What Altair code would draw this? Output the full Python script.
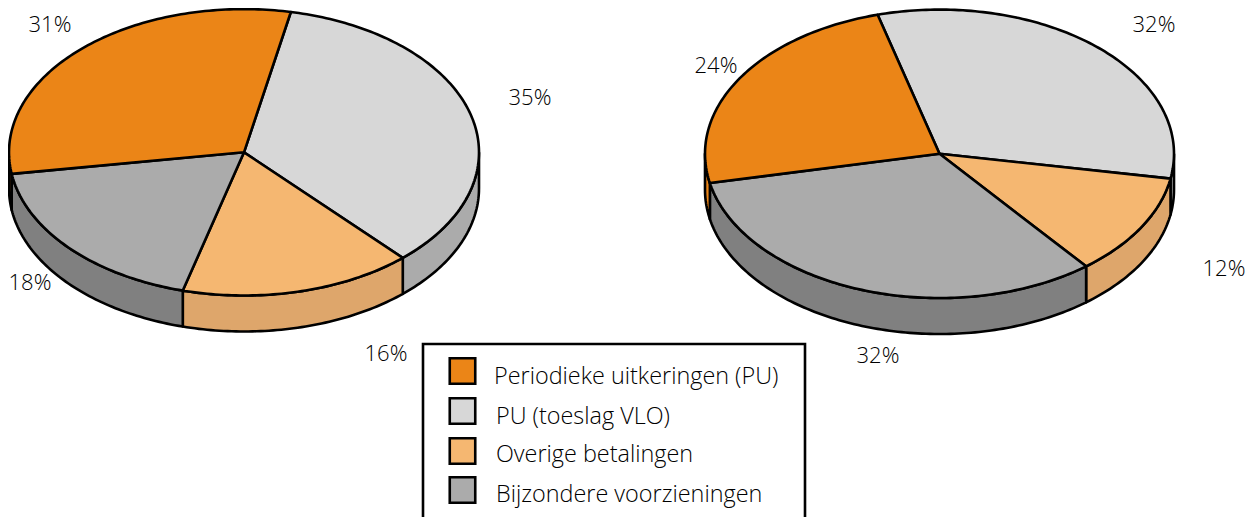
import math
import altair as alt
import pandas as pd

# Slices in drawing order (clockwise), with shares
names = ["PU (toeslag VLO)", "Overige betalingen", "Bijzondere voorzieningen", "Periodieke uitkeringen (PU)"]
legend_order = ["Periodieke uitkeringen (PU)", "PU (toeslag VLO)", "Overige betalingen", "Bijzondere voorzieningen"]
legend_colors = ["#EB8517", "#D7D7D7", "#F5B771", "#ABABAB"]
side_names = ["side toeslag", "side overige", "side bijzonder", "side periodiek"]
side_colors = ["#ABABAB", "#DEA66B", "#808080", "#EB8517"]

shares_left = [35.0, 16.0, 18.4, 30.6]
shares_right = [32.0, 11.5, 32.5, 24.0]
labels_left = ["35%", "16%", "18%", "31%"]
labels_right = ["32%", "12%", "32%", "24%"]

# Layout of the two discs: centre, radii, depth, first slice angle (deg clockwise from 12 o'clock)
left_pie = dict(cx=244, cy=152.3, rx=235, ry=143.2, depth=36, start=11.5)
right_pie = dict(cx=939.5, cy=153.8, rx=234.5, ry=144.2, depth=36, start=-15.3)

label_x_left = [530, 386, 30, 50]
label_y_left = [98, 354, 283, 25]
label_x_right = [1154, 1224, 878, 716]
label_y_right = [25, 269, 356, 66]

box_x = [423, 423, 805, 805]
box_y = [530, 344, 344, 530]
key_x = [462.5, 462.5, 462.5, 462.5]
key_y = [371, 411, 451, 490]
key_text_x = [494, 496, 496, 496]
key_text_y = [384, 423.5, 462, 502]


def pt(p, deg, drop=0.0):
    a = math.radians(deg)
    return p["cx"] + p["rx"] * math.sin(a), p["cy"] - p["ry"] * math.cos(a) + drop


def arc(a, b):
    n = max(2, int(abs(b - a) / 1.0) + 1)
    return [a + (b - a) * i / (n - 1) for i in range(n)]


rows = []
poly = 0


def add(points, name):
    global poly
    poly += 1
    for i, (x, y) in enumerate(points + points[:1]):
        rows.append(dict(x=x, y=y, i=i, poly=poly, name=name))


def pie(p, shares):
    edges = [p["start"]]
    for s in shares:
        edges.append(edges[-1] + s * 3.6)
    for k in range(len(shares)):
        for lo, hi in ((90, 270), (450, 630)):
            a, b = max(edges[k], lo), min(edges[k + 1], hi)
            if b > a:
                top = [pt(p, d) for d in arc(a, b)]
                bottom = [pt(p, d, p["depth"]) for d in arc(b, a)]
                add(top + bottom, side_names[k])
    for k in range(len(shares)):
        wedge = [(p["cx"], p["cy"])] + [pt(p, d) for d in arc(edges[k], edges[k + 1])]
        add(wedge, names[k])


pie(left_pie, shares_left)
pie(right_pie, shares_right)
df = pd.DataFrame(rows)

text_df = pd.DataFrame({
    "x": label_x_left + label_x_right,
    "y": label_y_left + label_y_right,
    "t": labels_left + labels_right,
})
box_df = pd.DataFrame({"x": box_x, "y": box_y, "i": range(4)})
key_df = pd.DataFrame({"x": key_x, "y": key_y, "name": legend_order})
key_text_df = pd.DataFrame({"x": key_text_x, "y": key_text_y, "name": legend_order})

W, H = 1238, 509
xs = alt.X("x:Q", axis=None, scale=alt.Scale(domain=[8, 1246], nice=False, zero=False))
ys = alt.Y("y:Q", axis=None, scale=alt.Scale(domain=[517, 8], nice=False, zero=False))

fill_scale = alt.Scale(domain=legend_order + side_names, range=legend_colors + side_colors)
font = "Open Sans"

shapes = alt.Chart(df).mark_line(stroke="black", strokeWidth=2.6, strokeJoin="round", interpolate="linear").encode(
    x=xs, y=ys,
    order="i:Q",
    detail="poly:N",
    fill=alt.Fill("name:N", scale=fill_scale, legend=None),
)
box = alt.Chart(box_df).mark_line(stroke="black", strokeWidth=2.6).encode(x=xs, y=ys, order="i:Q")
keys = alt.Chart(key_df).mark_square(size=650, stroke="black", strokeWidth=2.6, opacity=1, filled=True).encode(
    x=xs, y=ys, fill=alt.Fill("name:N", scale=fill_scale, legend=None))
key_texts = alt.Chart(key_text_df).mark_text(font=font, fontSize=23.4, fontWeight=300, color="black", align="left", baseline="alphabetic").encode(
    x=xs, y=ys, text="name:N")
texts = alt.Chart(text_df).mark_text(font=font, fontSize=22, fontWeight=300, color="black", align="center", baseline="middle").encode(
    x=xs, y=ys, text="t:N")

chart = alt.layer(box, shapes, keys, key_texts, texts).properties(
    width=W, height=H, padding=0, autosize=alt.AutoSizeParams(type="none")
).configure_view(stroke=None)

chart.save("out.html", embed_options={"renderer": "svg", "actions": False})
